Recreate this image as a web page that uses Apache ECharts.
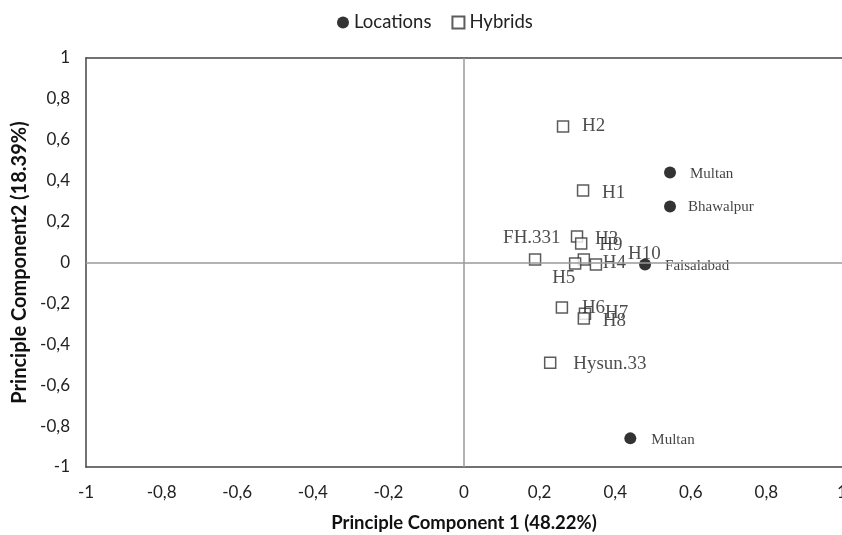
<!DOCTYPE html>
<html>
<head>
<meta charset="utf-8">
<script src="https://cdn.jsdelivr.net/npm/echarts@6/dist/echarts.min.js"></script>
<style>
html,body{margin:0;padding:0;background:#fff;}
#chart{width:842px;height:535px;}
</style>
</head>
<body>
<div id="chart"></div>
<script>
// ---- Data ----
var hybridNames = ['H1','H2','H3','H4','H5','H6','H7','H8','H9','H10','FH.331','Hysun.33'];
var hybridPC1   = [0.315, 0.262, 0.299, 0.317, 0.294, 0.259, 0.320, 0.317, 0.310, 0.349, 0.188, 0.228];
var hybridPC2   = [0.352, 0.665, 0.127, 0.015, -0.005, -0.220, -0.250, -0.274, 0.093, -0.010, 0.015, -0.490];

var locationNames = ['Multan','Bhawalpur','Faisalabad','Multan'];
var locationPC1   = [0.545, 0.545, 0.479, 0.440];
var locationPC2   = [0.440, 0.274, -0.010, -0.860];

var axisTicks = [-1, -0.8, -0.6, -0.4, -0.2, 0, 0.2, 0.4, 0.6, 0.8, 1];

// label placement (left edge offset, vertical offset) in px, relative to the marker
var hybridLabelOffset = {
  'H1':[19,2], 'H2':[19,0], 'H3':[18,2], 'H4':[19,4], 'H5':[-23,14], 'H6':[20,1],
  'H7':[20,-1], 'H8':[19,2], 'H9':[18,2], 'H10':[32,-11], 'FH.331':[-32,-21], 'Hysun.33':[23,1]
};
var locationLabelOffset = [[20,2],[18,1],[20,2],[21,2]];

var sansFont = 'Lato';
var serifFont = '"Liberation Serif", "DejaVu Serif", serif';

function fmt(v){
  var r = Math.round(v*10)/10;
  if (r === 0) r = 0;
  return String(r).replace('.', ',');
}

var hybridData = hybridNames.map(function(n, i){
  var off = hybridLabelOffset[n] || [14,0];
  return {
    name: n,
    value: [hybridPC1[i], hybridPC2[i]],
    label: {show:true, position:'inside', align:'left', verticalAlign:'middle', offset: off,
            formatter: n, color:'#222', fontFamily: serifFont, fontSize: 19}
  };
});
var locationData = locationNames.map(function(n, i){
  return {
    name: n,
    value: [locationPC1[i], locationPC2[i]],
    label: {show:true, position:'inside', align:'left', verticalAlign:'middle', offset: locationLabelOffset[i],
            formatter: n, color:'#111', fontFamily: serifFont, fontSize: 15}
  };
});

var frameLine = {show:true, onZero:false, lineStyle:{color:'#444', width:1.5}};
var axisCommon = {
  type: 'value', min: axisTicks[0], max: axisTicks[axisTicks.length-1], interval: 0.2,
  axisLine: frameLine, axisTick: {show:false}, splitLine: {show:false},
  axisLabel: {formatter: fmt, color:'#222', fontFamily: sansFont, fontSize: 17},
  nameLocation: 'middle'
};

var chart = echarts.init(document.getElementById('chart'), null, {renderer:'canvas'});
chart.setOption({
  animation: false,
  backgroundColor: '#fff',
  legend: {
    data: ['Locations','Hybrids'], top: 8, left: 332,
    itemWidth: 12, itemHeight: 12, itemGap: 20,
    textStyle: {fontFamily: sansFont, fontSize: 18.5, color:'#222'}
  },
  grid: {left: 86, right: 0, top: 58, bottom: 68, containLabel: false, outerBoundsMode: 'none', show: false},
  xAxis: [
    Object.assign({}, axisCommon, {
      position: 'bottom',
      name: 'Principle Component 1 (48.22%)', nameGap: 47,
      nameTextStyle: {fontFamily: sansFont, fontWeight:'bold', fontSize: 18.5, color:'#111'},
      axisLabel: Object.assign({}, axisCommon.axisLabel, {margin: 17})
    }),
    Object.assign({}, axisCommon, {
      position: 'top', axisLabel: {show:false}
    })
  ],
  yAxis: Object.assign({}, axisCommon, {
    position: 'left',
    name: 'Principle Component2 (18.39%)', nameGap: 54,
    nameTextStyle: {fontFamily: sansFont, fontWeight:'bold', fontSize: 20, color:'#111'},
    axisLabel: Object.assign({}, axisCommon.axisLabel, {margin: 16})
  }),
  series: [
    {
      name: 'zero', type: 'scatter', data: [], z: 1, silent: true,
      markLine: {
        symbol: 'none', silent: true, label: {show:false},
        lineStyle: {color:'#9a9a9a', width: 1.5, type:'solid'},
        data: [{xAxis: 0}, {yAxis: 0}]
      }
    },
    {
      name: 'Hybrids', type: 'scatter', z: 3, symbol: 'rect', symbolSize: 11,
      itemStyle: {color:'#fff', borderColor:'#333', borderWidth: 1.5},
      data: hybridData
    },
    {
      name: 'Locations', type: 'scatter', z: 4, symbol: 'circle', symbolSize: 12,
      itemStyle: {color:'#000'},
      data: locationData
    }
  ]
});
</script>
</body>
</html>
